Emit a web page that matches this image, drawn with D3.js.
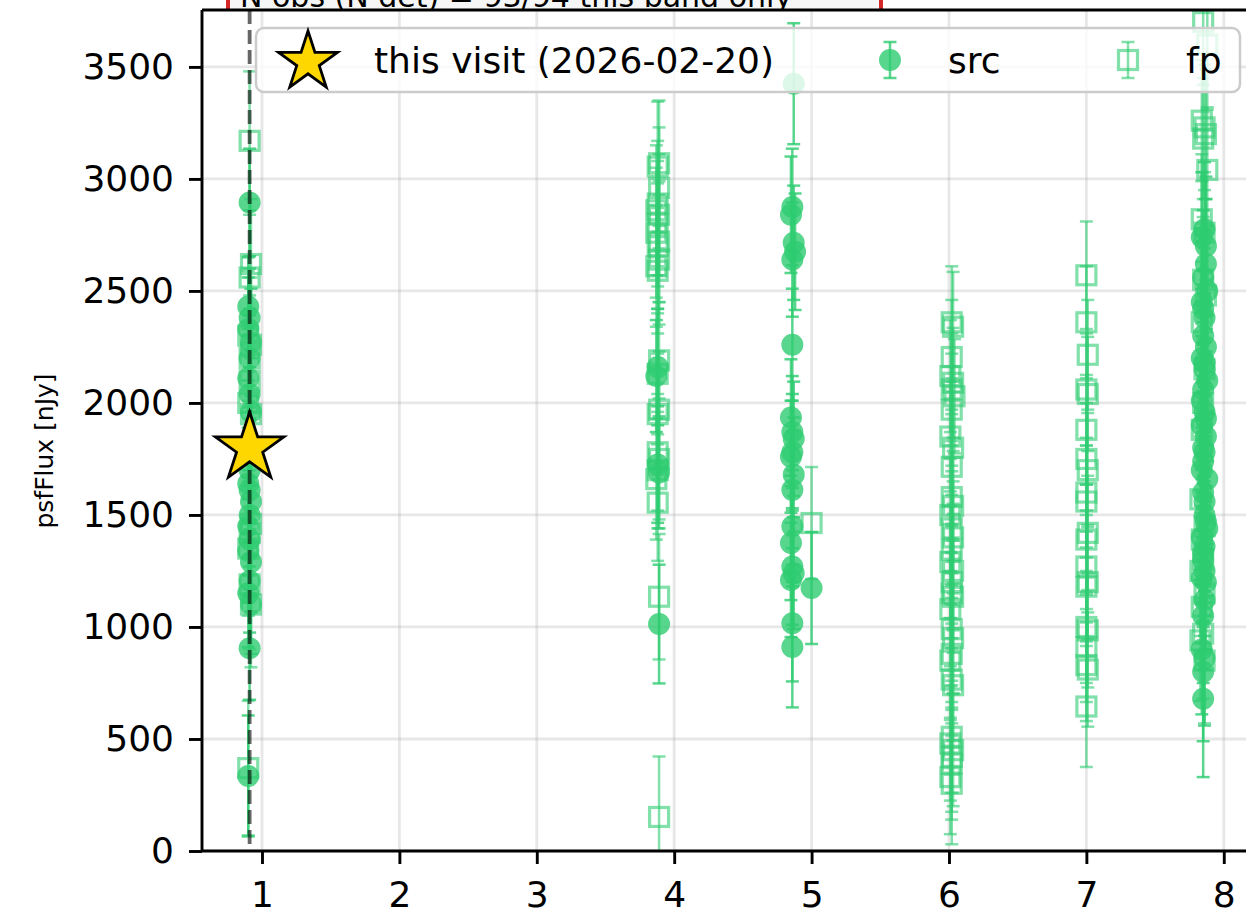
<!DOCTYPE html>
<html><head><meta charset="utf-8">
<script src="https://cdn.jsdelivr.net/npm/d3@7"></script>
<style>html,body{margin:0;padding:0;background:#fff;overflow:hidden}svg{display:block}text{font-family:"DejaVu Sans",sans-serif}</style>
</head><body><svg id="c" width="1246" height="913"></svg>
<script>
// ---- data ----
const xTicks = [1, 2, 3, 4, 5, 6, 7, 8];
const yTicks = [0, 500, 1000, 1500, 2000, 2500, 3000, 3500];
const yLabel = "psfFlux [nJy]";
const legendLabels = ["this visit (2026-02-20)", "src", "fp"];
const headerText = "N obs (N det) = 93/94   this band only";
const visitX = 0.91;
const visitY = 1790;

const srcX = [0.91,0.90,0.91,0.90,0.92,0.91,0.90,0.91,0.92,0.91,0.90,0.91,0.92,0.91,0.90,0.91,0.90,0.92,0.91,0.90,0.92,0.91,0.90,
  3.88,3.87,3.88,3.89,3.89,
  4.87,4.86,4.85,4.87,4.88,4.86,4.86,4.85,4.86,4.87,4.86,4.85,4.87,4.86,4.86,4.85,4.86,4.87,4.85,4.86,4.86,5.00,
  7.86,7.84,7.87,7.85,7.88,7.84,7.86,7.85,7.87,7.84,7.86,7.88,7.85,7.86,7.84,7.87,7.85,7.86,7.84,7.88,7.85,7.86,7.87,7.84,7.86,7.85,7.84,7.87,7.86,7.85,7.84,7.86,7.85,7.85,
  7.87,7.85,7.86,7.84,7.87,7.85,7.86,7.88,7.85,7.86];
const srcY = [2895,2430,2380,2330,2270,2200,2110,2040,1960,1700,1640,1610,1560,1500,1450,1390,1340,1290,1205,1150,1100,905,335,
  2160,2120,1725,1690,1013,
  3425,2875,2840,2715,2675,2640,2260,1935,1870,1840,1780,1760,1680,1612,1450,1375,1270,1240,1210,1017,911,1174,
  2775,2740,2700,2560,2500,2450,2380,2300,2250,2200,2150,2100,2060,1960,1900,1850,1800,1780,1700,1660,1600,1500,1470,1400,1360,1300,1220,1200,1120,1050,900,860,800,680,
  2620,2420,2180,2010,1930,1740,1560,1440,1330,1250];
const srcErr = [240,220,220,230,240,220,220,230,240,230,220,230,240,230,220,240,230,220,230,240,220,230,270,
  260,250,260,250,265,
  270,260,260,255,260,255,250,260,250,255,260,250,255,260,250,255,260,250,255,260,270,250,
  300,290,310,300,290,300,310,290,300,310,300,290,300,310,300,290,300,310,300,290,300,310,290,300,310,300,290,300,310,300,290,300,310,350,
  290,300,310,290,300,310,290,300,310,290];

const fpX = [0.91,0.92,0.91,0.90,0.92,0.91,0.91,0.90,0.92,0.92,0.91,0.90,0.91,0.92,0.90,
  3.89,3.88,3.89,3.88,3.87,3.89,3.88,3.87,3.89,3.88,3.89,3.87,3.88,3.89,3.88,3.89,3.88,3.88,3.89,3.88,3.87,3.88,3.89,3.89,
  5.00,
  6.02,6.03,6.02,6.01,6.03,6.02,6.04,6.02,6.01,6.03,6.02,6.02,6.03,6.01,6.02,6.03,6.02,6.01,6.03,6.02,6.02,6.03,6.01,6.02,6.03,6.02,6.01,6.02,6.03,6.02,6.01,6.03,6.02,6.02,6.01,6.02,
  7.00,7.00,7.01,7.00,7.01,7.00,7.00,7.01,7.00,7.00,7.01,7.00,7.00,7.01,7.00,7.00,7.01,7.00,7.00,7.01,7.00,
  7.85,7.88,7.84,7.86,7.87,7.85,7.88,7.84,7.86,7.85,7.87,7.84,7.86,7.85,7.84,7.83,7.86,7.84,7.85,7.83,7.86,7.84,7.85,7.83,7.86];
const fpY = [3170,2620,2560,2300,2260,2200,2100,2000,1950,1460,1420,1350,1190,1100,370,
  3070,3055,2960,2890,2860,2840,2800,2760,2720,2700,2640,2610,2590,2190,2130,1970,1950,1780,1750,1700,1660,1555,1135,152,
  1464,
  2360,2340,2205,2120,2090,2060,2030,1970,1850,1800,1715,1580,1540,1500,1440,1400,1345,1290,1250,1200,1150,1135,1080,990,950,880,850,765,740,510,480,450,420,390,330,300,
  2570,2360,2215,2060,2040,1880,1750,1700,1600,1560,1420,1390,1270,1200,1180,1000,985,910,830,810,645,
  3700,3600,3260,3230,3200,3180,3040,2820,2760,2550,2480,2360,2150,2000,1880,1570,1450,1390,1300,1250,1150,1090,970,940,850];
const fpErr = [310,290,280,290,300,280,290,300,280,290,280,300,290,280,300,
  280,290,270,280,290,270,280,290,270,280,290,270,280,260,270,260,270,260,270,260,270,260,280,270,
  250,
  250,245,255,250,245,250,255,250,245,250,255,250,245,250,255,250,245,250,255,250,245,250,255,250,245,250,255,250,245,250,255,250,245,250,255,270,
  240,250,245,250,255,245,250,255,245,250,255,245,250,255,245,250,255,245,250,255,270,
  280,290,270,280,290,270,280,290,270,280,290,270,280,290,270,280,290,270,280,290,270,280,290,270,280];

// ---- layout ----
const W = 1246, H = 913;
const L = 202, T = 10, B = 851, R = 1265;
const GREEN = "#2ecc71";
const svg = d3.select("#c");

const x = d3.scaleLinear().domain([0.5634, 8.3]).range([L, R]);
const y = d3.scaleLinear().domain([0, 3754]).range([B, T]);

// header box (cut off at top, as in the reference)
const hb = svg.append("g");
hb.append("rect").attr("x", 226).attr("y", -60).attr("width", 656).attr("height", 72).attr("fill", "#f6f6f6");
hb.append("text").attr("x", 240).attr("y", 7).attr("font-size", 30).attr("fill", "#000").text(headerText);
hb.append("line").attr("x1", 228).attr("x2", 228).attr("y1", -60).attr("y2", 12).attr("stroke", "#d62728").attr("stroke-width", 4);
hb.append("line").attr("x1", 881).attr("x2", 881).attr("y1", -60).attr("y2", 12).attr("stroke", "#d62728").attr("stroke-width", 4);

svg.append("rect").attr("x", L).attr("y", T).attr("width", R - L).attr("height", B - T).attr("fill", "#fff");

svg.append("defs").append("clipPath").attr("id", "clip")
  .append("rect").attr("x", L).attr("y", T).attr("width", R - L).attr("height", B - T);

// grid
const grid = svg.append("g").attr("clip-path", "url(#clip)");
grid.selectAll(".gx").data(xTicks).join("line")
  .attr("x1", d => x(d)).attr("x2", d => x(d)).attr("y1", T).attr("y2", B)
  .attr("stroke", "#b0b0b0").attr("stroke-opacity", 0.3).attr("stroke-width", 2.8);
grid.selectAll(".gy").data(yTicks).join("line")
  .attr("x1", L).attr("x2", R).attr("y1", d => y(d)).attr("y2", d => y(d))
  .attr("stroke", "#b0b0b0").attr("stroke-opacity", 0.3).attr("stroke-width", 2.8);

const plot = svg.append("g").attr("clip-path", "url(#clip)");

function errorbars(g, xs, ys, es, op) {
  const idx = d3.range(xs.length);
  const eg = g.append("g").attr("stroke", GREEN).attr("stroke-opacity", op).attr("stroke-width", 2.5);
  eg.selectAll(".v").data(idx).join("line")
    .attr("x1", i => x(xs[i])).attr("x2", i => x(xs[i]))
    .attr("y1", i => y(ys[i] - es[i])).attr("y2", i => y(ys[i] + es[i]));
  eg.selectAll(".ct").data(idx).join("line")
    .attr("x1", i => x(xs[i]) - 6.5).attr("x2", i => x(xs[i]) + 6.5)
    .attr("y1", i => y(ys[i] + es[i])).attr("y2", i => y(ys[i] + es[i]));
  eg.selectAll(".cb").data(idx).join("line")
    .attr("x1", i => x(xs[i]) - 6.5).attr("x2", i => x(xs[i]) + 6.5)
    .attr("y1", i => y(ys[i] - es[i])).attr("y2", i => y(ys[i] - es[i]));
}

// fp series
const fpG = plot.append("g");
errorbars(fpG, fpX, fpY, fpErr, 0.6);
fpG.selectAll("rect.m").data(d3.range(fpX.length)).join("rect")
  .attr("x", i => x(fpX[i]) - 9.5).attr("y", i => y(fpY[i]) - 9.5)
  .attr("width", 19).attr("height", 19)
  .attr("fill", "none").attr("stroke", GREEN).attr("stroke-opacity", 0.6).attr("stroke-width", 3.2);

// src series
const srcG = plot.append("g");
errorbars(srcG, srcX, srcY, srcErr, 0.8);
srcG.selectAll("circle").data(d3.range(srcX.length)).join("circle")
  .attr("cx", i => x(srcX[i])).attr("cy", i => y(srcY[i])).attr("r", 11)
  .attr("fill", GREEN).attr("fill-opacity", 0.8);

// visit line
plot.append("line").attr("x1", x(visitX)).attr("x2", x(visitX)).attr("y1", T).attr("y2", B)
  .attr("stroke", "#000").attr("stroke-opacity", 0.6).attr("stroke-width", 3.8)
  .attr("stroke-dasharray", "14,6");

function starPath(cx, cy, Ro) {
  const ri = Ro * 0.382;
  const pts = [];
  for (let k = 0; k < 10; k++) {
    const a = -Math.PI / 2 + k * Math.PI / 5;
    const r = k % 2 === 0 ? Ro : ri;
    pts.push([cx + r * Math.cos(a), cy + r * Math.sin(a)]);
  }
  return "M" + pts.map(p => p.join(",")).join("L") + "Z";
}
svg.append("path").attr("d", starPath(x(visitX), y(visitY) - 2, 36))
  .attr("fill", "#FFD700").attr("stroke", "#000").attr("stroke-width", 2.8).attr("stroke-linejoin", "miter");

// spines
svg.append("line").attr("x1", L).attr("x2", L).attr("y1", T).attr("y2", B).attr("stroke", "#000").attr("stroke-width", 2.9);
svg.append("line").attr("x1", L).attr("x2", W + 5).attr("y1", B).attr("y2", B).attr("stroke", "#000").attr("stroke-width", 2.9);
svg.append("line").attr("x1", L).attr("x2", W + 5).attr("y1", T).attr("y2", T).attr("stroke", "#000").attr("stroke-width", 2.9);

// axes
const xAxis = svg.append("g").attr("transform", `translate(0,${B})`)
  .call(d3.axisBottom(x).tickValues(xTicks).tickFormat(d3.format("d")).tickSize(13).tickPadding(17));
const yAxis = svg.append("g").attr("transform", `translate(${L},0)`)
  .call(d3.axisLeft(y).tickValues(yTicks).tickFormat(d3.format("d")).tickSize(13).tickPadding(15));
[xAxis, yAxis].forEach(a => {
  a.select(".domain").remove();
  a.selectAll(".tick line").attr("stroke", "#000").attr("stroke-width", 2.9);
  a.selectAll(".tick text").attr("font-size", 36).attr("fill", "#000").attr("font-family", "DejaVu Sans");
});

svg.append("text").attr("transform", "translate(53,451) rotate(-90)")
  .attr("text-anchor", "middle").attr("font-size", 25).attr("fill", "#000").text(yLabel);

// legend
const lg = svg.append("g");
lg.append("rect").attr("x", 256).attr("y", 28).attr("width", 984).attr("height", 64).attr("rx", 8)
  .attr("fill", "#fff").attr("fill-opacity", 0.8).attr("stroke", "#cccccc").attr("stroke-width", 2.5);
lg.append("path").attr("d", starPath(308, 62, 31)).attr("fill", "#FFD700").attr("stroke", "#000").attr("stroke-width", 2.8);
lg.append("text").attr("x", 374).attr("y", 73).attr("font-size", 36).attr("fill", "#000").text(legendLabels[0]);
// src marker
const sx = 890;
lg.append("line").attr("x1", sx).attr("x2", sx).attr("y1", 42).attr("y2", 78).attr("stroke", GREEN).attr("stroke-opacity", 0.8).attr("stroke-width", 2.5);
lg.append("line").attr("x1", sx - 6.5).attr("x2", sx + 6.5).attr("y1", 42).attr("y2", 42).attr("stroke", GREEN).attr("stroke-opacity", 0.8).attr("stroke-width", 2.5);
lg.append("line").attr("x1", sx - 6.5).attr("x2", sx + 6.5).attr("y1", 78).attr("y2", 78).attr("stroke", GREEN).attr("stroke-opacity", 0.8).attr("stroke-width", 2.5);
lg.append("circle").attr("cx", sx).attr("cy", 60).attr("r", 11).attr("fill", GREEN).attr("fill-opacity", 0.8);
lg.append("text").attr("x", 948).attr("y", 73).attr("font-size", 36).attr("fill", "#000").text(legendLabels[1]);
// fp marker
const fx = 1128;
lg.append("line").attr("x1", fx).attr("x2", fx).attr("y1", 42).attr("y2", 78).attr("stroke", GREEN).attr("stroke-opacity", 0.6).attr("stroke-width", 2.5);
lg.append("line").attr("x1", fx - 6.5).attr("x2", fx + 6.5).attr("y1", 42).attr("y2", 42).attr("stroke", GREEN).attr("stroke-opacity", 0.6).attr("stroke-width", 2.5);
lg.append("line").attr("x1", fx - 6.5).attr("x2", fx + 6.5).attr("y1", 78).attr("y2", 78).attr("stroke", GREEN).attr("stroke-opacity", 0.6).attr("stroke-width", 2.5);
lg.append("rect").attr("x", fx - 9.5).attr("y", 50.5).attr("width", 19).attr("height", 19)
  .attr("fill", "none").attr("stroke", GREEN).attr("stroke-opacity", 0.6).attr("stroke-width", 3.2);
lg.append("text").attr("x", 1186).attr("y", 73).attr("font-size", 36).attr("fill", "#000").text(legendLabels[2]);
</script></body></html>
